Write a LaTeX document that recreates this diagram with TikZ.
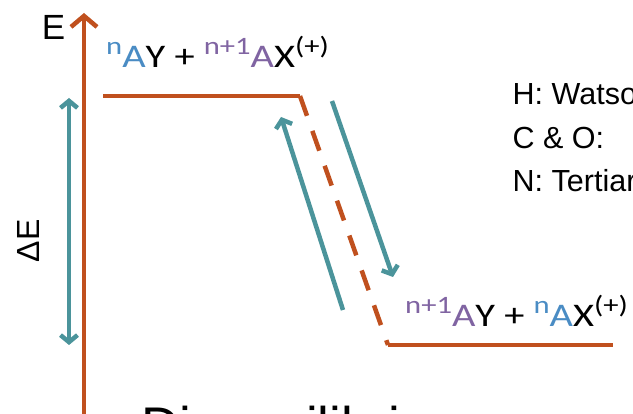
\documentclass[tikz,border=0pt]{standalone}
\usepackage{fontspec}
\setmainfont{Liberation Sans}
\newfontfamily\calib{Carlito}
\usetikzlibrary{arrows.meta}
\definecolor{rust}{RGB}{192,80,30}
\definecolor{tealc}{RGB}{75,148,155}
\definecolor{blueA}{RGB}{74,140,196}
\definecolor{purpA}{RGB}{128,100,162}
\newcommand{\supx}[2]{\raisebox{13pt}{\fontsize{25}{25}\selectfont\textcolor{#1}{#2}}}
\newcommand{\wideLbl}[1]{\scalebox{1.225}[1]{#1}}
\begin{document}
\begin{tikzpicture}[x=1pt,y=-1pt,
  rustline/.style={draw=rust, line width=4.5pt},
  tealline/.style={draw=tealc, line width=4.5pt},
  bigbarb/.style={-{Straight Barb[length=11pt,width=26pt]}},
  tbarb/.style={-{Straight Barb[length=7pt,width=17pt]}},
  dbarb/.style={{Straight Barb[length=7pt,width=17pt]}-{Straight Barb[length=7pt,width=17pt]}},
  lbl/.style={anchor=base west, inner sep=0pt, font=\calib\fontsize{33}{33}\selectfont},
  side/.style={anchor=base west, inner sep=0pt, font=\fontsize{30.5}{30.5}\selectfont}
]
\useasboundingbox (0,0) rectangle (633,414);
\clip (0,0) rectangle (633,414);
\fill[white] (0,0) rectangle (633,414);

% coordinates
\coordinate (axb) at (84,420);
\coordinate (axt) at (84,13);
\coordinate (deb) at (69,345);
\coordinate (det) at (69,98);
\coordinate (tl) at (103,96);
\coordinate (tr) at (300,96);
\coordinate (bl) at (388,345);
\coordinate (br) at (613,345);
\coordinate (u1) at (343,310);
\coordinate (u2) at (281,117);
\coordinate (d1) at (332,101);
\coordinate (d2) at (393,277);

% axis
\draw[rustline, bigbarb] (axb) -- (axt);
\node[inner sep=0pt, font=\fontsize{35}{35}\selectfont] (E) at (53.5,27) {E};

% delta E
\draw[tealline, dbarb] (deb) -- (det);
\node[inner sep=0pt, rotate=90, font=\fontsize{32}{32}\selectfont] (dE) at (28.5,241) {ΔE};

% levels
\draw[rustline] (tl) -- (tr);
\draw[rustline] (bl) -- (br);
\draw[rustline, dash pattern=on 21pt off 16pt] (tr) -- (bl);

% transfer arrows
\draw[tealline, tbarb] (u1) -- (u2);
\draw[tealline, tbarb] (d1) -- (d2);

% labels
\node[lbl] (top) at (106,68) {\wideLbl{\supx{blueA}{n}\textcolor{blueA}{A}Y + \supx{purpA}{n+1}\textcolor{purpA}{A}X\supx{black}{(+)}}};
\node[lbl] (bot) at (405,327) {\wideLbl{\supx{purpA}{n+1}\textcolor{purpA}{A}Y + \supx{blueA}{n}\textcolor{blueA}{A}X\supx{black}{(+)}}};

\node[side] (h) at (512.5,105) {H: Watson};
\node[side] (c) at (512.5,148.5) {C \& O:};
\node[side] (n) at (512.5,192) {N: Tertiary};

\node[anchor=base west, inner sep=0pt, font=\fontsize{53}{53}\selectfont] (dis) at (141,445) {Disequilibrium};
\end{tikzpicture}
\end{document}
